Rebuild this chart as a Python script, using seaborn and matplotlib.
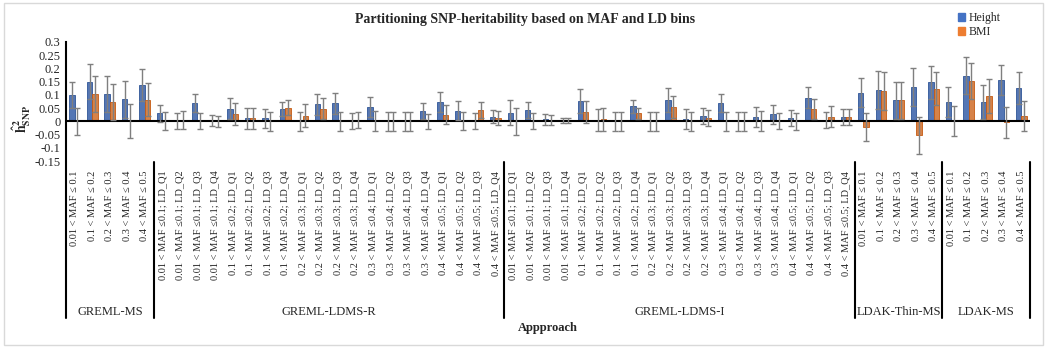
import matplotlib
matplotlib.use("Agg")
import matplotlib.pyplot as plt
import seaborn as sns
import pandas as pd
from matplotlib.patches import Rectangle

# ---------------- data ----------------
groups = ["GREML-MS", "GREML-LDMS-R", "GREML-LDMS-I", "LDAK-Thin-MS", "LDAK-MS"]
maf_bins = ["0.01 < MAF ≤ 0.1", "0.1 < MAF ≤ 0.2", "0.2 < MAF ≤ 0.3",
            "0.3 < MAF ≤ 0.4", "0.4 < MAF ≤ 0.5"]
maf_ld_prefix = ["0.01 < MAF ≤0.1", "0.1 < MAF ≤0.2", "0.2 < MAF ≤0.3",
                 "0.3 < MAF ≤0.4", "0.4 < MAF ≤0.5"]
ld_quartiles = ["LD_Q1", "LD_Q2", "LD_Q3", "LD_Q4"]
ld_labels = [f"{m}; {q}" for m in maf_ld_prefix for q in ld_quartiles]

category_labels = maf_bins + ld_labels + ld_labels + maf_bins + maf_bins
group_sizes = [5, 20, 20, 5, 5]

height = [0.099, 0.150, 0.104, 0.084, 0.138,
          0.030, 0.000, 0.069, 0.003, 0.048, 0.012, 0.012, 0.046, 0.000, 0.064,
          0.068, 0.000, 0.055, 0.000, 0.000, 0.040, 0.073, 0.040, 0.000, 0.017,
          0.032, 0.042, 0.007, 0.002, 0.077, 0.005, 0.000, 0.057, 0.000, 0.082,
          0.010, 0.021, 0.068, 0.000, 0.017, 0.026, 0.012, 0.089, 0.004, 0.015,
          0.109, 0.120, 0.079, 0.129, 0.147,
          0.074, 0.173, 0.074, 0.156, 0.126]
height_err = [0.050, 0.066, 0.068, 0.070, 0.060,
              0.033, 0.030, 0.033, 0.020, 0.039, 0.040, 0.036, 0.027, 0.036, 0.040,
              0.040, 0.030, 0.037, 0.036, 0.035, 0.031, 0.038, 0.035, 0.030, 0.025,
              0.047, 0.031, 0.020, 0.010, 0.046, 0.040, 0.035, 0.025, 0.037, 0.045,
              0.038, 0.031, 0.034, 0.037, 0.039, 0.035, 0.030, 0.040, 0.030, 0.030,
              0.055, 0.072, 0.071, 0.072, 0.063,
              0.057, 0.071, 0.065, 0.058, 0.061]
bmi = [0.000, 0.104, 0.073, 0.000, 0.082,
       0.000, 0.005, 0.000, 0.000, 0.027, 0.012, 0.000, 0.052, 0.021, 0.048,
       0.000, 0.005, 0.000, 0.000, 0.000, 0.000, 0.025, 0.000, 0.043, 0.012,
       0.000, 0.000, 0.005, 0.003, 0.036, 0.007, 0.000, 0.030, 0.000, 0.055,
       0.000, 0.012, 0.000, 0.000, 0.000, 0.000, 0.000, 0.046, 0.017, 0.017,
       -0.022, 0.114, 0.079, -0.052, 0.123,
       0.000, 0.151, 0.095, -0.004, 0.021]
bmi_err = [0.052, 0.068, 0.068, 0.064, 0.062,
           0.034, 0.034, 0.030, 0.020, 0.041, 0.040, 0.035, 0.027, 0.043, 0.041,
           0.035, 0.030, 0.038, 0.036, 0.035, 0.028, 0.035, 0.034, 0.031, 0.027,
           0.050, 0.030, 0.020, 0.010, 0.041, 0.042, 0.035, 0.022, 0.037, 0.041,
           0.037, 0.030, 0.035, 0.037, 0.038, 0.030, 0.031, 0.038, 0.040, 0.031,
           0.054, 0.072, 0.071, 0.070, 0.063,
           0.057, 0.068, 0.065, 0.059, 0.056]

series_names = ["Height", "BMI"]
y_ticks = [0.3, 0.25, 0.2, 0.15, 0.1, 0.05, 0, -0.05, -0.1, -0.15]
y_tick_labels = ["0.3", "0.25", "0.2", "0.15", "0.1", "0.05", "0", "-0.05", "-0.1", "-0.15"]

# ---------------- styling ----------------
sns.set_style("white")
plt.rcParams["font.family"] = ["Liberation Serif", "DejaVu Serif"]
plt.rcParams["mathtext.fontset"] = "stix"

colors = {"Height": "#4472C4", "BMI": "#ED7D31"}
edges = {"Height": "#2F5597", "BMI": "#C55A11"}

n = len(category_labels)
ids = [f"c{i:02d}" for i in range(n)]
df = pd.DataFrame({
    "cat": ids * 2,
    "series": ["Height"] * n + ["BMI"] * n,
    "value": height + bmi,
})

W, H = 1050, 353
fig = plt.figure(figsize=(W / 100, H / 100), dpi=100)
ax = fig.add_axes([66 / W, 1 - 161 / H, (1030 - 66) / W, (161 - 42) / H])

sns.barplot(data=df, x="cat", y="value", hue="series", order=ids,
            hue_order=series_names, palette=colors, errorbar=None,
            width=0.62, ax=ax, legend=False, linewidth=0.6)

errs = {"Height": (height, height_err), "BMI": (bmi, bmi_err)}
for cont, name in zip(ax.containers, series_names):
    vals, er = errs[name]
    xs = []
    for p in cont:
        p.set_edgecolor(edges[name])
        xs.append(p.get_x() + p.get_width() / 2)
    ax.errorbar(xs, vals, yerr=er, fmt="none", ecolor="#7F7F7F",
                elinewidth=1.0, capsize=2.2, capthick=1.0, zorder=5)

ax.set_xlim(-0.5, n - 0.5)
ax.set_ylim(-0.15, 0.3)
ax.set_yticks(y_ticks)
ax.set_yticklabels(y_tick_labels, fontsize=9)
ax.set_xticks(range(n))
ax.set_xticklabels(category_labels, rotation=90, fontsize=7.5, va="top")
ax.tick_params(axis="both", length=0)
ax.tick_params(axis="x", pad=7)
ax.tick_params(axis="y", pad=4)
ax.set_xlabel("")
ax.set_ylabel("")

for s in ["top", "right", "bottom"]:
    ax.spines[s].set_visible(False)
ax.spines["left"].set_color("black")
ax.spines["left"].set_linewidth(1.5)
ax.axhline(0, color="black", linewidth=1.5, zorder=4)

# group separators and group labels
tr = ax.get_xaxis_transform()
bounds = [-0.5]
for g in group_sizes:
    bounds.append(bounds[-1] + g)
for b in bounds:
    ax.plot([b, b], [-0.01, -1.32], color="black", linewidth=1.5,
            transform=tr, clip_on=False)
for gname, lo, hi in zip(groups, bounds[:-1], bounds[1:]):
    ax.text((lo + hi) / 2, -1.27, gname, transform=tr, ha="center",
            va="center", fontsize=9)

ax.text(0.5, -1.4, "Appproach", transform=ax.transAxes, ha="center",
        va="center", fontsize=9, fontweight="bold")

fig.text(0.5, 1 - 20 / H, "Partitioning SNP-heritability based on MAF and LD bins",
         ha="center", va="center", fontsize=10, fontweight="bold")
fig.text(22 / W, 1 - 119 / H, r"$\mathbf{\hat{h}^2_{SNP}}$", rotation=90,
         ha="center", va="center", fontsize=10)

handles = [Rectangle((0, 0), 1, 1, color=colors[s]) for s in series_names]
fig.legend(handles, series_names, loc="upper left",
           bbox_to_anchor=(950 / W, 1 - 4 / H), frameon=False, fontsize=8.5,
           handlelength=0.6, handleheight=0.6, handletextpad=0.3,
           labelspacing=0.15, borderpad=0.2)

fig.patches.append(Rectangle((4 / W, 1 - 345 / H), (1043 - 4) / W, (345 - 3) / H,
                             transform=fig.transFigure, fill=False,
                             edgecolor="#D9D9D9", linewidth=1.0))

fig.savefig("out.png", dpi=100)
